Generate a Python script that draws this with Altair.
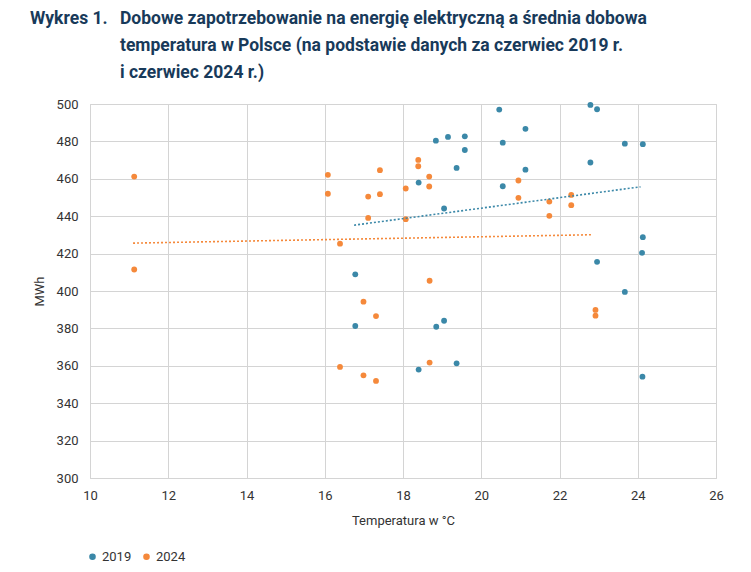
import altair as alt
import pandas as pd

# ---- data ----
temp_2019 = [20.46, 21.13, 18.84, 19.15, 19.58, 20.55, 19.58, 19.37, 21.13, 18.40,
             20.55, 19.05, 16.78, 22.79, 22.96, 23.67, 24.13, 22.79, 24.13, 24.11,
             22.96, 23.67, 16.78, 19.05, 18.85, 19.37, 18.40, 24.12]
mwh_2019 = [497.0, 486.7, 480.4, 482.4, 482.7, 479.3, 475.4, 465.8, 464.9, 458.0,
            456.0, 444.1, 408.9, 499.5, 497.2, 478.8, 478.5, 468.7, 428.8, 420.4,
            415.6, 399.5, 381.3, 384.1, 380.9, 361.3, 358.0, 354.2]

temp_2024 = [11.13, 11.13, 16.08, 16.08, 17.41, 17.11, 17.41, 18.39, 18.39, 18.67,
             18.67, 18.07, 17.11, 18.07, 16.39, 20.95, 20.95, 18.68, 22.30, 22.30,
             21.74, 21.74, 16.99, 17.31, 16.39, 16.99, 17.31, 18.68, 22.92, 22.92]
mwh_2024 = [461.2, 411.5, 462.1, 452.0, 464.6, 450.5, 451.8, 470.1, 466.7, 461.2,
            455.9, 454.8, 439.1, 438.4, 425.3, 459.1, 449.8, 405.5, 451.4, 445.9,
            447.8, 440.2, 394.3, 386.6, 359.4, 354.9, 351.9, 361.7, 389.9, 386.8]

# linear trend lines (end points)
trend_2019_x = [16.75, 24.07]
trend_2019_y = [435.2, 455.7]
trend_2024_x = [11.10, 22.85]
trend_2024_y = [425.6, 430.1]

years = ["2019", "2024"]
colors = ["#3b88a8", "#f5893b"]

x_ticks = [10, 12, 14, 16, 18, 20, 22, 24, 26]
y_ticks = [300, 320, 340, 360, 380, 400, 420, 440, 460, 480, 500]

title_label = "Wykres 1."
title_lines = [
    "Dobowe zapotrzebowanie na energię elektryczną a średnia dobowa",
    "temperatura w Polsce (na podstawie danych za czerwiec 2019 r.",
    "i czerwiec 2024 r.)",
]

pts = pd.DataFrame(
    {"year": ["2019"] * len(temp_2019) + ["2024"] * len(temp_2024),
     "temp": temp_2019 + temp_2024,
     "mwh": mwh_2019 + mwh_2024}
)
trend = pd.DataFrame(
    {"year": ["2019"] * 2 + ["2024"] * 2,
     "temp": trend_2019_x + trend_2024_x,
     "mwh": trend_2019_y + trend_2024_y}
)

FONT = "Roboto"
GRID = "#d4d4d4"

xscale = alt.Scale(domain=[10, 26], nice=False)
yscale = alt.Scale(domain=[300, 500], nice=False)
xaxis = alt.Axis(title="Temperatura w °C", values=x_ticks, grid=True, ticks=False,
                 labelPadding=11, titlePadding=12, labelOverlap=False, labelFlush=False)
yaxis = alt.Axis(title="MWh", values=y_ticks, grid=True, ticks=False,
                 labelPadding=12, titlePadding=10, labelOverlap=False, labelFlush=False)
legend = alt.Legend(
    title=None, orient="none", legendX=-4, legendY=446, direction="horizontal",
    symbolType="circle", symbolSize=26, labelFontSize=13, labelColor="#333333",
    labelFont=FONT, columnPadding=8, labelOffset=3,
)
cscale = alt.Scale(domain=years, range=colors)

points = alt.Chart(pts).mark_circle(size=34, opacity=1).encode(
    x=alt.X("temp:Q", scale=xscale, axis=xaxis),
    y=alt.Y("mwh:Q", scale=yscale, axis=yaxis),
    color=alt.Color("year:N", scale=cscale, legend=legend),
)

lines = alt.Chart(trend).mark_line(strokeDash=[2, 2], strokeWidth=1.6).encode(
    x=alt.X("temp:Q", scale=xscale, axis=xaxis),
    y=alt.Y("mwh:Q", scale=yscale, axis=yaxis),
    color=alt.Color("year:N", scale=cscale, legend=legend),
)

def tline(txt, x, y):
    return alt.Chart(alt.Data(values=[{}])).mark_text(
        align="left", baseline="alphabetic", font=FONT, fontSize=17.5,
        fontWeight="bold", color="#183a5a",
    ).encode(x=alt.value(x), y=alt.value(y), text=alt.value(txt))

title_layers = [tline(title_label, -60, -80)]
for i, t in enumerate(title_lines):
    title_layers.append(tline(t, 30, -80 + 27 * i))

chart = alt.layer(points, lines, *title_layers).properties(
    width=626, height=374,
    padding={"left": 22, "top": 2, "right": 0, "bottom": 0},
).configure_view(
    stroke=GRID, strokeWidth=1
).configure_axis(
    gridColor=GRID, gridWidth=1, domainColor=GRID, labelOverlap=False,
    labelFont=FONT, labelFontSize=13, labelColor="#333333",
    titleFont=FONT, titleFontSize=13, titleColor="#333333", titleFontWeight="normal",
)

chart.save("out.html", embed_options={"renderer": "svg", "actions": False})
